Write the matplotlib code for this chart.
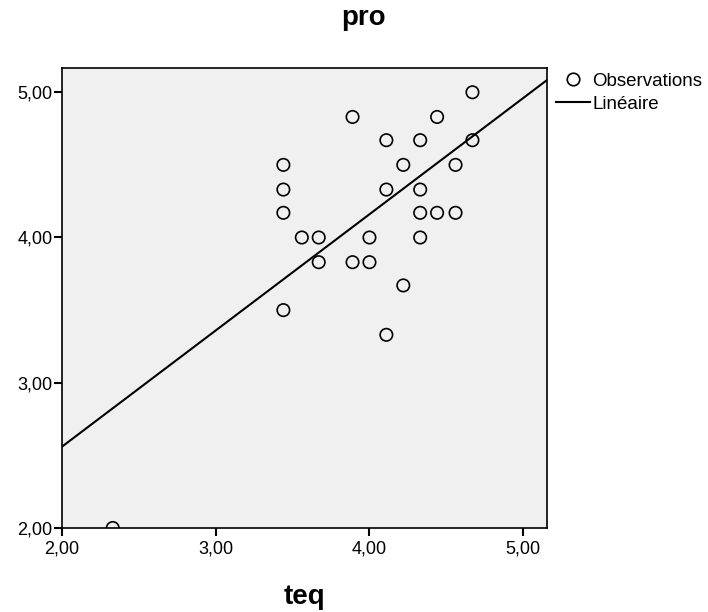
import numpy as np
from matplotlib import pyplot as plt
from matplotlib.ticker import FuncFormatter
from matplotlib.lines import Line2D

# observations (teq, pro)
teq = [2.33, 3.44, 3.44, 3.44, 3.44, 3.56, 3.67, 3.67, 3.89, 3.89,
       4.00, 4.00, 4.11, 4.11, 4.11, 4.22, 4.22, 4.33, 4.33, 4.33,
       4.33, 4.44, 4.44, 4.56, 4.56, 4.67, 4.67]
pro = [2.00, 3.50, 4.17, 4.33, 4.50, 4.00, 4.00, 3.83, 3.83, 4.83,
       4.00, 3.83, 3.33, 4.33, 4.67, 3.67, 4.50, 4.00, 4.17, 4.33,
       4.67, 4.17, 4.83, 4.17, 4.50, 4.67, 5.00]

# droite linéaire (ordonnée à l'origine, pente)
fit_a = 0.96
fit_b = 0.80

ticks = [2.0, 3.0, 4.0, 5.0]

plt.rcParams['font.family'] = ['Liberation Sans', 'DejaVu Sans']

fig = plt.figure(figsize=(7.08, 6.12), dpi=100)
ax = fig.add_axes([0.0876, 0.1373, 0.685, 0.7511])
ax.set_facecolor('#f0f0f0')

xlim = (2.0, 5.155)
ylim = (2.0, 5.165)
ax.set_xlim(xlim)
ax.set_ylim(ylim)

xs = np.array(xlim)
ax.plot(xs, fit_a + fit_b * xs, color='black', lw=1.5, zorder=2)
ax.scatter(teq, pro, s=80, facecolors='none', edgecolors='black',
           linewidths=1.2, zorder=3)

fmt = FuncFormatter(lambda v, p: f"{v:.2f}".replace('.', ','))
ax.set_xticks(ticks)
ax.set_yticks(ticks)
ax.xaxis.set_major_formatter(fmt)
ax.yaxis.set_major_formatter(fmt)
ax.tick_params(direction='out', length=6, width=1.5, labelsize=13,
               colors='black', pad=3)
ax.tick_params(axis='y', pad=1)
for s in ax.spines.values():
    s.set_linewidth(1.2)

fig.text(364 / 708, 1 - 18 / 612, 'pro', ha='center',
         va='center', fontsize=20, fontweight='bold')
fig.text(304 / 708, 1 - 597 / 612, 'teq', ha='center',
         va='center', fontsize=20, fontweight='bold')

handles = [Line2D([], [], ls='none', marker='o', mfc='none', mec='black',
                  ms=9, mew=1.2),
           Line2D([], [], color='black', lw=1.5)]
fig.legend(handles, ['Observations', 'Linéaire'], loc='upper left',
           bbox_to_anchor=(0.785, 0.881), frameon=False, fontsize=13.5,
           handlelength=1.8, handletextpad=0.15, labelspacing=0.3,
           borderaxespad=0, borderpad=0)

fig.savefig('out.png', dpi=100)
